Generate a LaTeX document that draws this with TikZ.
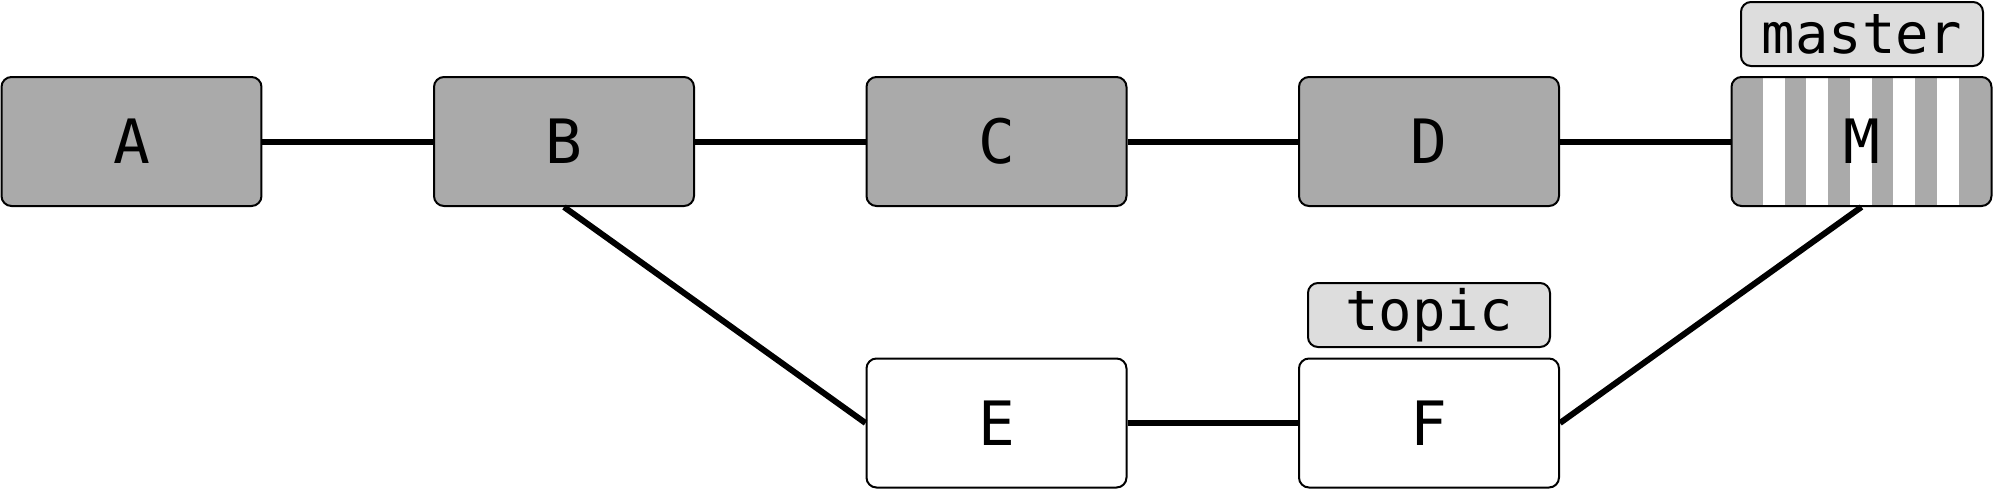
\documentclass[tikz,border=0pt]{standalone}
\usepackage{fontspec}
\setmonofont{DejaVu Sans Mono}
\definecolor{commitgray}{HTML}{AAAAAA}
\definecolor{tagfill}{HTML}{DDDDDD}
\tikzset{
  commit/.style={draw, line width=0.2mm, rounded corners=1mm,
    minimum width=26mm, minimum height=12.9mm, inner sep=0pt,
    font=\ttfamily\fontsize{17.4}{20}\selectfont},
  merged/.style={commit, fill=commitgray},
  fresh/.style={commit, fill=white},
  striped/.style={commit, fill=commitgray,
    path picture={
      \foreach \i in {0,...,4}
        \fill[white, sharp corners] ([xshift=3.1mm+\i*4.35mm]path picture bounding box.south west)
          rectangle ++(2.2mm,13mm);
    }},
  reftag/.style={draw, line width=0.2mm, rounded corners=1mm, fill=tagfill,
    minimum width=24.2mm, minimum height=6.4mm, inner sep=0pt,
    font=\ttfamily\fontsize{15.8}{18}\selectfont},
  link/.style={line width=0.6mm}
}
\begin{document}
\begin{tikzpicture}[x=0.1mm,y=-0.1mm]
  \useasboundingbox (0,0) rectangle (2000,490);
  % main line
  \node[merged] (A) at (131.5,141.5) {A};
  \node[merged] (B) at (564,141.5) {B};
  \node[merged] (C) at (996.5,141.5) {C};
  \node[merged] (D) at (1429,141.5) {D};
  \node[striped] (M) at (1861.5,141.5) {M};
  % topic branch
  \node[fresh] (E) at (996.5,423) {E};
  \node[fresh] (F) at (1429,423) {F};
  % refs
  \node[reftag] (master) at (1862,34) {master};
  \node[reftag] (topic) at (1429,315) {topic};
  \draw[link] (A) -- (B);
  \draw[link] (B) -- (C);
  \draw[link] (C) -- (D);
  \draw[link] (D) -- (M);
  \draw[link] (B.south) -- (E.west);
  \draw[link] (E) -- (F);
  \draw[link] (F.east) -- (M.south);
\end{tikzpicture}
\end{document}
